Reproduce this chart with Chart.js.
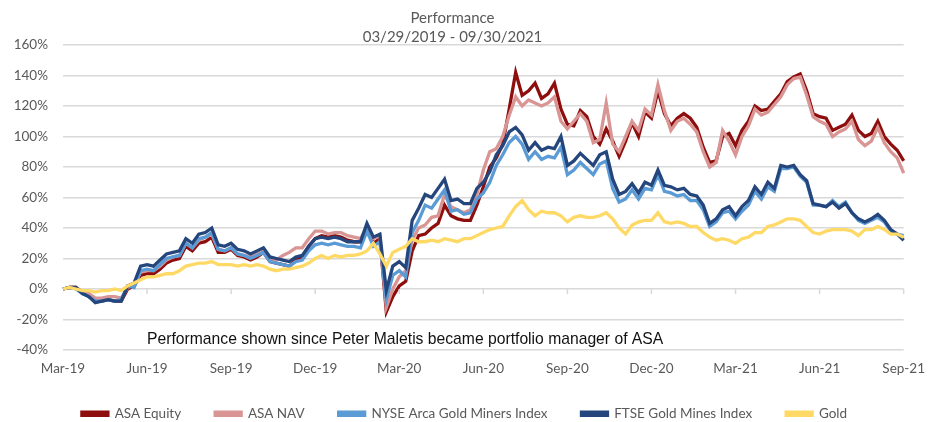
<!DOCTYPE html>
<html>
<head>
<meta charset="utf-8">
<script src="https://cdn.jsdelivr.net/npm/chart.js@4.4.1/dist/chart.umd.min.js"></script>
<style>
  html, body { margin: 0; padding: 0; background: #fff; }
  #wrap { width: 936px; height: 422px; }
</style>
</head>
<body>
<div id="wrap"><canvas id="perf" width="936" height="422"></canvas></div>
<script>
// weekly observations, 03/29/2019 .. 09/30/2021 (131 weeks)
const startDate = new Date(Date.UTC(2019, 2, 29));
const weeks = [];
for (let i = 0; i < 131; i++) {
  const d = new Date(startDate.getTime() + i * 7 * 86400000);
  weeks.push(d.toISOString().slice(0, 10));
}

// quarter labels, one every 13 weeks
const tickLabels = ['Mar-19', 'Jun-19', 'Sep-19', 'Dec-19', 'Mar-20', 'Jun-20',
  'Sep-20', 'Dec-20', 'Mar-21', 'Jun-21', 'Sep-21'];

const seriesNames = ['ASA Equity', 'ASA NAV', 'NYSE Arca Gold Miners Index', 'FTSE Gold Mines Index', 'Gold'];

const asaEquity = [0,1,1,-2,-5,-8,-8,-7,-8,-8, 0,2,9,10,10,13,17,19,20,28,
  25,30,31,34,24,24,26,22,21,19, 21,24,18,17,16,15,19,21,28,33,
  35,34,35,34,32,31,31,40,30,33, -15,-5,2,5,25,35,36,40,43,55,
  48,46,45,45,55,67,80,86,95,118, 142,127,130,135,125,128,135,118,108,107,
  117,113,100,95,105,97,87,97,109,100, 116,112,130,115,107,112,115,112,106,93,
  83,84,100,102,94,104,110,120,117,118, 123,128,136,139,141,130,115,113,112,104,
  106,108,114,104,100,102,110,100,95,91, 84];

const asaNav = [0,1,1,-2,-3,-6,-6,-5,-5,-6, 1,3,11,12,12,15,19,21,22,30,
  27,32,34,36,26,25,27,23,22,21, 23,25,20,19,22,24,27,27,33,38,
  38,36,37,37,35,34,33,40,33,35, -12,0,8,12,32,40,42,47,48,62,
  54,52,50,52,62,78,90,92,100,114, 126,120,124,122,120,122,126,110,105,110,
  115,110,96,98,122,95,90,100,110,104, 118,114,134,117,104,110,112,108,103,90,
  80,83,104,97,88,100,107,118,114,116, 121,126,134,138,139,127,113,110,108,100,
  103,105,110,98,94,97,106,96,90,86, 76];

const nyseArca = [0,1,0,-3,-5,-8,-8,-7,-8,-7, 2,1,12,13,12,16,20,21,22,30,
  27,33,34,37,26,25,27,23,22,20, 22,24,18,17,16,15,18,19,25,29,
  30,29,30,29,28,28,27,38,28,31, -7,9,12,8,37,45,55,53,59,65,
  51,52,49,50,59,63,70,81,88,96, 100,95,85,90,85,87,86,93,75,78,
  83,79,75,82,84,66,57,59,65,59, 66,65,75,64,63,61,62,58,58,52,
  41,44,50,51,46,51,55,64,59,67, 64,79,79,80,74,70,55,55,54,58,
  54,57,50,45,43,45,47,44,38,36, 35];

const ftseGold = [0,1,1,-3,-5,-9,-8,-7,-8,-8, 2,4,15,16,15,19,23,24,25,33,
  30,36,37,40,29,28,30,26,25,23, 25,27,21,20,19,18,21,22,28,33,
  34,33,34,33,31,31,31,43,34,36, -1,15,18,14,45,53,62,60,66,72,
  58,59,56,56,66,70,77,88,94,103, 106,101,91,96,91,93,92,100,81,84,
  89,85,81,88,90,72,62,64,69,63, 70,68,78,68,67,65,66,62,61,55,
  43,46,52,54,48,54,58,67,62,70, 66,81,80,81,75,71,56,55,54,57,
  53,56,50,46,44,46,49,45,39,36, 32];

const gold = [0,1,0,-1,-1,-2,-1,-1,0,-1, 2,4,6,8,8,9,10,10,12,15,
  16,17,17,18,16,16,16,15,16,15, 16,15,13,12,13,13,14,15,17,20,
  22,20,22,21,22,22,23,25,30,23, 15,24,26,28,33,31,31,32,31,33,
  32,31,33,33,35,37,39,40,41,48, 54,58,52,48,51,50,50,48,44,47,
  48,47,47,48,50,46,40,36,42,44, 45,45,50,44,43,44,43,41,41,37,
  34,32,33,32,30,33,34,37,37,41, 42,44,46,46,45,41,37,36,38,39,
  39,39,38,35,39,39,41,39,36,36, 34];

const colors = ['#8e0d0d', '#d99594', '#5b9bd5', '#24467c', '#ffd966'];
const seriesValues = [asaEquity, asaNav, nyseArca, ftseGold, gold];

const note = 'Performance shown since Peter Maletis became portfolio manager of ASA';

// nudge the legend up into the space under the axis labels, centred on the page
const legendNudge = {
  id: 'legendNudge',
  afterLayout(chart) {
    const lg = chart.legend;
    lg.top -= 5; lg.bottom -= 5;
    lg.left += 12; lg.right += 12;
  }
};

// small tick marks on the 0% line plus the note text
const extras = {
  id: 'extras',
  afterDraw(chart) {
    const { ctx, scales: { x, y } } = chart;
    const y0 = y.getPixelForValue(0);
    ctx.save();
    ctx.strokeStyle = '#d9d9d9';
    ctx.lineWidth = 1.5;
    for (let i = 13; i < weeks.length; i += 13) {
      const px = x.getPixelForValue(i);
      ctx.beginPath();
      ctx.moveTo(px, y0);
      ctx.lineTo(px, y0 + 5);
      ctx.stroke();
    }
    ctx.fillStyle = '#111';
    ctx.font = '15.7px "Liberation Sans", Arial, sans-serif';
    ctx.textBaseline = 'middle';
    ctx.textAlign = 'left';
    ctx.fillText(note, x.getPixelForValue(13), y.getPixelForValue(-33));
    ctx.restore();
  }
};

new Chart(document.getElementById('perf'), {
  type: 'line',
  data: {
    labels: weeks,
    datasets: seriesNames.map((name, k) => ({
      label: name,
      data: seriesValues[k],
      borderColor: colors[k],
      backgroundColor: colors[k],
      borderWidth: 3.3,
      pointRadius: 0,
      tension: 0,
      order: 5 - k
    }))
  },
  options: {
    responsive: false,
    animation: false,
    layout: { padding: { left: 0, right: 31, top: 0, bottom: -13.5 } },
    plugins: {
      title: {
        display: true,
        text: ['Performance', '03/29/2019 - 09/30/2021'],
        color: '#595959',
        font: { family: 'Lato', size: 15, weight: 'normal', lineHeight: 1.3 },
        padding: { top: 8, bottom: -2 }
      },
      legend: {
        position: 'bottom',
        labels: {
          boxWidth: 26,
          boxHeight: 3,
          padding: 34,
          color: '#595959',
          font: { family: 'Lato', size: 13.5 },
          sort: (a, b) => a.datasetIndex - b.datasetIndex
        }
      },
      tooltip: { enabled: false }
    },
    scales: {
      x: {
        grid: { display: false, drawTicks: false },
        border: { display: false },
        afterBuildTicks: (scale) => {
          scale.ticks = scale.ticks.filter((t) => t.value % 13 === 0);
        },
        ticks: {
          autoSkip: false,
          maxRotation: 0,
          padding: 11,
          color: '#595959',
          font: { family: 'Lato', size: 13.5 },
          callback: (v) => tickLabels[v / 13]
        },
        afterFit: (scale) => { scale.height = 28; }
      },
      y: {
        min: -40,
        max: 160,
        border: { display: false },
        grid: { color: '#d9d9d9', lineWidth: 1.5, drawTicks: false },
        ticks: {
          stepSize: 20,
          padding: 15,
          color: '#595959',
          font: { family: 'Lato', size: 13.5 },
          callback: (v) => v + '%'
        },
        afterFit: (scale) => { scale.width = 63; }
      }
    }
  },
  plugins: [legendNudge, extras]
});
</script>
</body>
</html>
